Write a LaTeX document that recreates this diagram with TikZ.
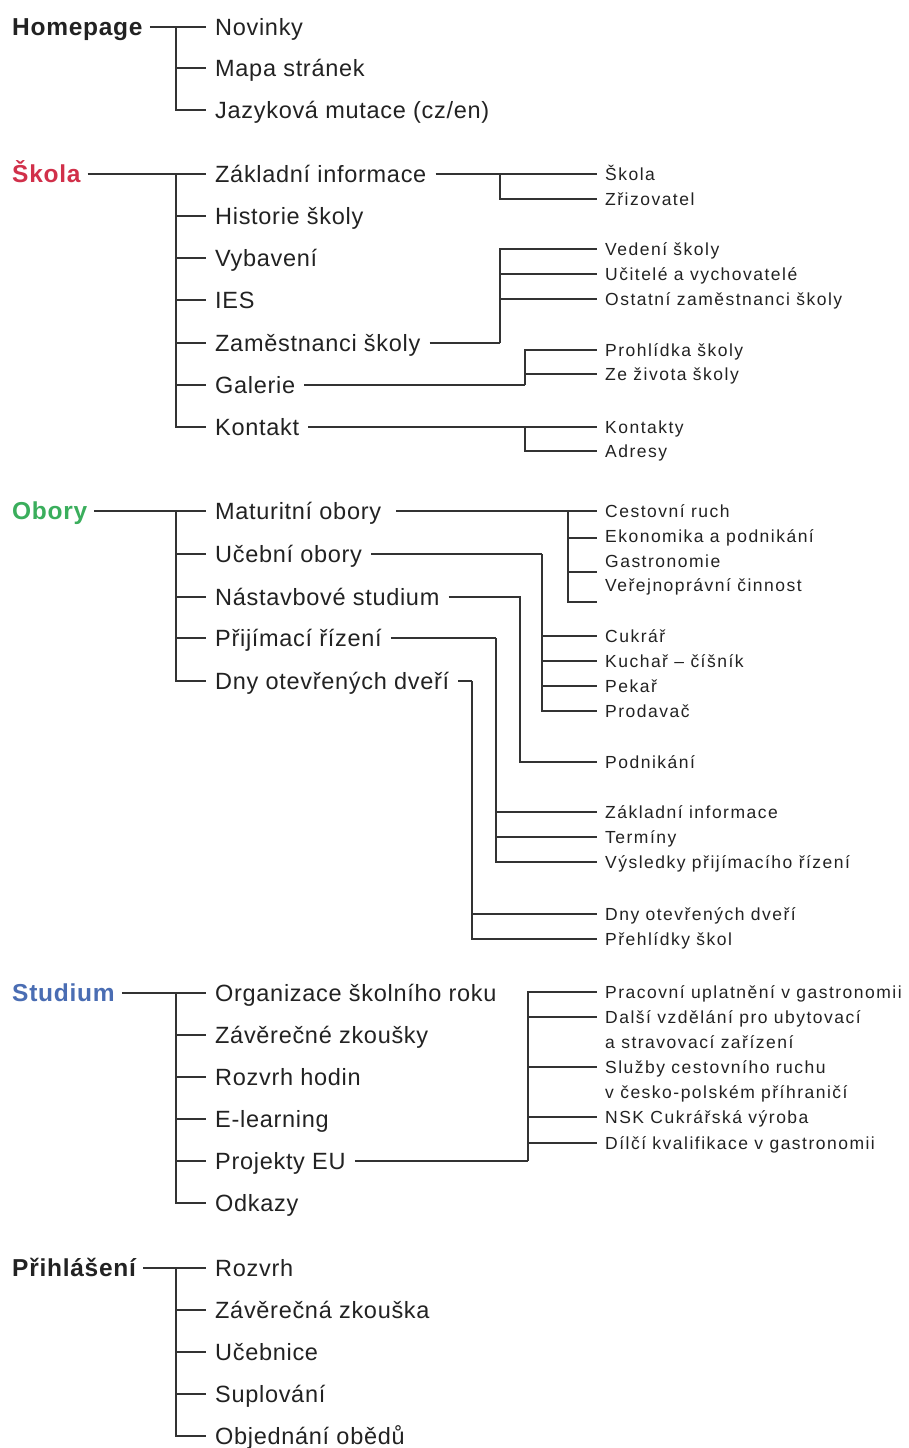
\documentclass[tikz,border=0pt]{standalone}
\usepackage{fontspec}
\setmainfont{Liberation Sans}
\newfontfamily\lvtwofont[LetterSpace=3]{Liberation Sans}
\newfontfamily\lvthreefont[LetterSpace=8.5]{Liberation Sans}
\newfontfamily\headfont[LetterSpace=3]{Liberation Sans}
\definecolor{skred}{HTML}{D1304A}
\definecolor{obgreen}{HTML}{3AAE5C}
\definecolor{stblue}{HTML}{4A6DB3}
\definecolor{linec}{HTML}{333333}
\definecolor{textc}{HTML}{222222}
\tikzset{
  conn/.style={draw=linec, line width=1.3pt},
  head/.style={anchor=west, inner xsep=7pt, inner ysep=0pt, text height=17.5pt, text depth=0pt,
    font=\headfont\bfseries\fontsize{24.5pt}{29pt}\selectfont, text=textc},
  item/.style={anchor=west, inner xsep=9pt, inner ysep=0pt, text height=16.8pt, text depth=0pt,
    font=\lvtwofont\fontsize{23.5pt}{28pt}\selectfont, text=textc},
  sub/.style={anchor=west, inner xsep=8pt, inner ysep=0pt, text height=12.5pt, text depth=0pt,
    font=\lvthreefont\fontsize{17.5pt}{25pt}\selectfont, text=textc},
}
\newcommand{\twolines}[2]{\vtop{\baselineskip=25pt\hbox{#1}\hbox{#2}}}
\begin{document}
\begin{tikzpicture}[x=1pt,y=-1pt]
\fill[white] (0,0) rectangle (908,1448);
\useasboundingbox (0,0) rectangle (908,1448);

% ---------------- Homepage
\node[head] (hp) at (5,27) {Homepage};
\node[item] (hp1) at (206,27) {Novinky};
\node[item] (hp2) at (206,68) {Mapa stránek};
\node[item] (hp3) at (206,110) {Jazyková mutace (cz/en)};
\coordinate (hpT) at (176,27);
\draw[conn] (hp.east) -- (hp1.west);
\foreach \c in {hp2,hp3} \draw[conn] (hpT) |- (\c.west);

% ---------------- Skola
\node[head, text=skred] (sk) at (5,174) {Škola};
\node[item] (sk1) at (206,174) {Základní informace};
\node[item] (sk2) at (206,216) {Historie školy};
\node[item] (sk3) at (206,258) {Vybavení};
\node[item] (sk4) at (206,300) {IES};
\node[item] (sk5) at (206,343) {Zaměstnanci školy};
\node[item] (sk6) at (206,385) {Galerie};
\node[item] (sk7) at (206,427) {Kontakt};
\coordinate (skT) at (176,174);
\draw[conn] (sk.east) -- (sk1.west);
\foreach \c in {sk2,sk3,sk4,sk5,sk6,sk7} \draw[conn] (skT) |- (\c.west);

\node[sub] (sk1a) at (597,174) {Škola};
\node[sub] (sk1b) at (597,199) {Zřizovatel};
\coordinate (sk1T) at (500,174);
\draw[conn] (sk1.east) -- (sk1a.west);
\draw[conn] (sk1T) |- (sk1b.west);

\node[sub] (sk5a) at (597,249) {Vedení školy};
\node[sub] (sk5b) at (597,274) {Učitelé a vychovatelé};
\node[sub] (sk5c) at (597,299) {Ostatní zaměstnanci školy};
\coordinate (sk5T) at (500,343);
\draw[conn] (sk5.east) -- (sk5T);
\foreach \c in {sk5a,sk5b,sk5c} \draw[conn] (sk5T) |- (\c.west);

\node[sub] (sk6a) at (597,350) {Prohlídka školy};
\node[sub] (sk6b) at (597,374) {Ze života školy};
\coordinate (sk6T) at (525,385);
\draw[conn] (sk6.east) -- (sk6T);
\foreach \c in {sk6a,sk6b} \draw[conn] (sk6T) |- (\c.west);

\node[sub] (sk7a) at (597,427) {Kontakty};
\node[sub] (sk7b) at (597,451) {Adresy};
\coordinate (sk7T) at (525,427);
\draw[conn] (sk7.east) -- (sk7a.west);
\draw[conn] (sk7T) |- (sk7b.west);

% ---------------- Obory
\node[head, text=obgreen] (ob) at (5,511) {Obory};
\node[item] (ob1) at (206,511) {Maturitní obory};
\node[item] (ob2) at (206,554) {Učební obory};
\node[item] (ob3) at (206,597) {Nástavbové studium};
\node[item] (ob4) at (206,638) {Přijímací řízení};
\node[item] (ob5) at (206,681) {Dny otevřených dveří};
\coordinate (obT) at (176,511);
\draw[conn] (ob.east) -- (ob1.west);
\foreach \c in {ob2,ob3,ob4,ob5} \draw[conn] (obT) |- (\c.west);

\node[sub] (ob1a) at (597,511) {Cestovní ruch};
\node[sub] (ob1b) at (597,536) {Ekonomika a podnikání};
\node[sub] (ob1c) at (597,561) {Gastronomie};
\node[sub] (ob1d) at (597,585) {Veřejnoprávní činnost};
\coordinate (ob1T) at (568,511);
\draw[conn] ([xshift=6pt]ob1.east) -- (ob1a.west);
\draw[conn] (ob1T) |- ([yshift=-2pt]ob1b.west);
\draw[conn] (ob1T) |- ([yshift=-11pt]ob1c.west);
\draw[conn] (ob1T) |- ([yshift=-17pt]ob1d.west);

\node[sub] (ob2a) at (597,636) {Cukrář};
\node[sub] (ob2b) at (597,661) {Kuchař – číšník};
\node[sub] (ob2c) at (597,686) {Pekař};
\node[sub] (ob2d) at (597,711) {Prodavač};
\coordinate (ob2T) at (542,554);
\draw[conn] (ob2.east) -- (ob2T);
\foreach \c in {ob2a,ob2b,ob2c,ob2d} \draw[conn] (ob2T) |- (\c.west);

\node[sub] (ob3a) at (597,762) {Podnikání};
\coordinate (ob3T) at (520,597);
\draw[conn] (ob3.east) -- (ob3T) |- (ob3a.west);

\node[sub] (ob4a) at (597,812) {Základní informace};
\node[sub] (ob4b) at (597,837) {Termíny};
\node[sub] (ob4c) at (597,862) {Výsledky přijímacího řízení};
\coordinate (ob4T) at (496,638);
\draw[conn] (ob4.east) -- (ob4T);
\foreach \c in {ob4a,ob4b,ob4c} \draw[conn] (ob4T) |- (\c.west);

\node[sub] (ob5a) at (597,914) {Dny otevřených dveří};
\node[sub] (ob5b) at (597,939) {Přehlídky škol};
\coordinate (ob5T) at (472,681);
\draw[conn] (ob5.east) -- (ob5T);
\foreach \c in {ob5a,ob5b} \draw[conn] (ob5T) |- (\c.west);

% ---------------- Studium
\node[head, text=stblue] (st) at (5,993) {Studium};
\node[item] (st1) at (206,993) {Organizace školního roku};
\node[item] (st2) at (206,1035) {Závěrečné zkoušky};
\node[item] (st3) at (206,1077) {Rozvrh hodin};
\node[item] (st4) at (206,1119) {E-learning};
\node[item] (st5) at (206,1161) {Projekty EU};
\node[item] (st6) at (206,1203) {Odkazy};
\coordinate (stT) at (176,993);
\draw[conn] (st.east) -- (st1.west);
\foreach \c in {st2,st3,st4,st5,st6} \draw[conn] (stT) |- (\c.west);

\node[sub] (st5a) at (597,992) {Pracovní uplatnění v gastronomii};
\node[sub] (st5b) at (597,1017) {\twolines{Další vzdělání pro ubytovací}{a stravovací zařízení}};
\node[sub] (st5c) at (597,1067) {\twolines{Služby cestovního ruchu}{v česko-polském příhraničí}};
\node[sub] (st5d) at (597,1117) {NSK Cukrářská výroba};
\node[sub] (st5e) at (597,1143) {Dílčí kvalifikace v gastronomii};
\coordinate (st5T) at (528,1161);
\draw[conn] (st5.east) -- (st5T);
\foreach \c in {st5a,st5b,st5c,st5d,st5e} \draw[conn] (st5T) |- (\c.west);

% ---------------- Prihlaseni
\node[head] (pr) at (5,1268) {Přihlášení};
\node[item] (pr1) at (206,1268) {Rozvrh};
\node[item] (pr2) at (206,1310) {Závěrečná zkouška};
\node[item] (pr3) at (206,1352) {Učebnice};
\node[item] (pr4) at (206,1394) {Suplování};
\node[item] (pr5) at (206,1436) {Objednání obědů};
\coordinate (prT) at (176,1268);
\draw[conn] (pr.east) -- (pr1.west);
\foreach \c in {pr2,pr3,pr4,pr5} \draw[conn] (prT) |- (\c.west);
\end{tikzpicture}
\end{document}
